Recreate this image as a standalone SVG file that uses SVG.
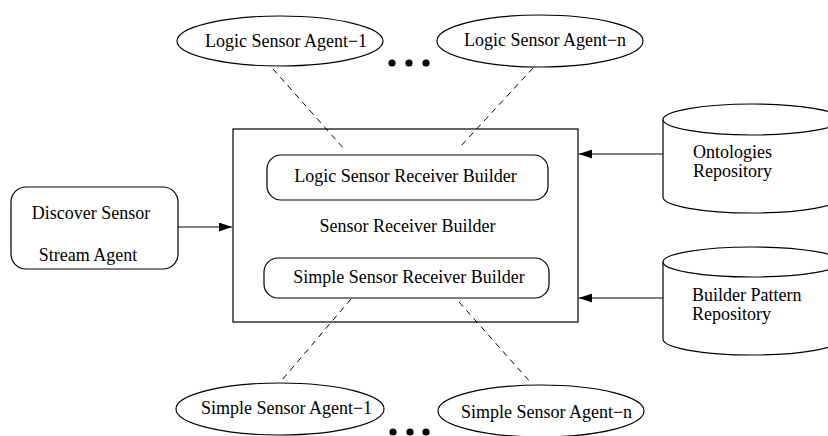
<svg xmlns="http://www.w3.org/2000/svg" width="828" height="436" viewBox="0 0 828 436">
<defs>
<marker id="arr" markerWidth="14" markerHeight="9" refX="13" refY="4.5" orient="auto" markerUnits="userSpaceOnUse">
<path d="M0,0 L13,4.5 L0,9 Z" fill="#000"/>
</marker>
<style>
.s{fill:#fff;stroke:#000;stroke-width:1.2}
.t{font-family:"Liberation Serif","Times New Roman",serif;font-size:18px;fill:#000}
.m{text-anchor:middle}
.d{stroke:#000;stroke-width:1;stroke-dasharray:6,5;fill:none}
.a{stroke:#000;stroke-width:1.2;fill:none;marker-end:url(#arr)}
</style>
</defs>
<rect width="828" height="436" fill="#fff"/>
<g id="connectors">
<line class="d" x1="273" y1="69" x2="345" y2="150"/>
<line class="d" x1="533" y1="68" x2="460" y2="147"/>
<line class="d" x1="351" y1="299" x2="282" y2="380"/>
<line class="d" x1="459" y1="302" x2="532" y2="384"/>
<line class="a" x1="178" y1="227" x2="232" y2="227"/>
<line class="a" x1="663" y1="154" x2="579" y2="154"/>
<line class="a" x1="663" y1="298" x2="579" y2="298"/>
</g>
<g id="sensor-receiver-builder">
<rect class="s" x="233" y="129" width="345" height="193" style="fill:none"/>
<text class="t m" x="407.5" y="232">Sensor Receiver Builder</text>
</g>
<g id="logic-sensor-receiver-builder">
<rect class="s" x="267" y="155" width="281" height="45" rx="14"/>
<text class="t m" x="405.5" y="182">Logic Sensor Receiver Builder</text>
</g>
<g id="simple-sensor-receiver-builder">
<rect class="s" x="264" y="258" width="285" height="40" rx="14"/>
<text class="t m" x="409" y="283">Simple Sensor Receiver Builder</text>
</g>
<g id="discover-sensor-stream-agent">
<rect class="s" x="11" y="187" width="167" height="82" rx="15"/>
<text class="t m" x="91" y="219">Discover Sensor</text>
<text class="t m" x="88" y="261">Stream Agent</text>
</g>
<g id="logic-sensor-agent-1">
<ellipse class="s" cx="280" cy="41" rx="103" ry="25"/>
<text class="t m" x="286" y="47">Logic Sensor Agent−1</text>
</g>
<g id="logic-sensor-agent-n">
<ellipse class="s" cx="540" cy="41" rx="103" ry="26"/>
<text class="t m" x="545" y="46">Logic Sensor Agent−n</text>
</g>
<g id="logic-dots">
<circle cx="392" cy="63" r="3.6"/>
<circle cx="409" cy="63" r="3.6"/>
<circle cx="426" cy="63" r="3.6"/>
</g>
<g id="simple-sensor-agent-1">
<ellipse class="s" cx="280" cy="409" rx="104" ry="26"/>
<text class="t m" x="286.5" y="414">Simple Sensor Agent−1</text>
</g>
<g id="simple-sensor-agent-n">
<ellipse class="s" cx="541" cy="411" rx="103" ry="26"/>
<text class="t m" x="546.5" y="418">Simple Sensor Agent−n</text>
</g>
<g id="simple-dots">
<circle cx="393" cy="432" r="3.6"/>
<circle cx="410" cy="432" r="3.6"/>
<circle cx="426" cy="432" r="3.6"/>
</g>
<g id="ontologies-repository">
<path class="s" d="M663,119.5 L663,197 A89,16 0 0 0 841,197 L841,119.5"/>
<ellipse class="s" cx="752" cy="119.5" rx="89" ry="15.5"/>
<text class="t" x="693" y="158">Ontologies</text>
<text class="t" x="693" y="177">Repository</text>
</g>
<g id="builder-pattern-repository">
<path class="s" d="M663,262 L663,339 A89,16 0 0 0 841,339 L841,262"/>
<ellipse class="s" cx="752" cy="262" rx="89" ry="15"/>
<text class="t" x="692" y="301">Builder Pattern</text>
<text class="t" x="692" y="320">Repository</text>
</g>
</svg>
